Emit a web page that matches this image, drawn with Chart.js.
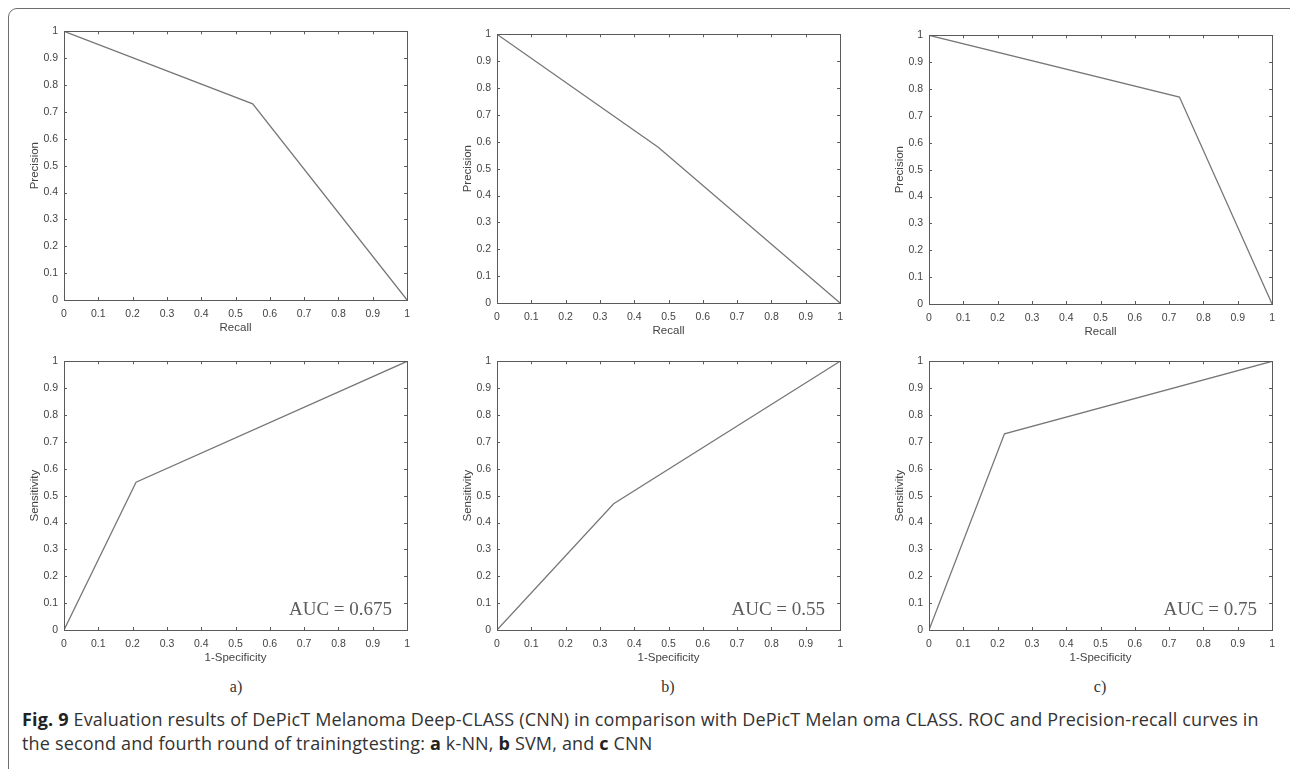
<!DOCTYPE html>
<html>
<head>
<meta charset="utf-8">
<script src="https://cdn.jsdelivr.net/npm/chart.js@4.4.0/dist/chart.umd.min.js"></script>
<style>
  body { margin: 0; width: 1290px; height: 769px; background: #fff; overflow: hidden; position: relative; }
  .frame { position: absolute; left: 8px; top: 8px; width: 1400px; height: 900px;
           border: 1.5px solid #6e6e6e; border-top-left-radius: 9px; }
  .box { position: absolute; }
  .sub { position: absolute; font-family: "Liberation Serif", serif; font-size: 16px; color: #333; transform: translateX(-50%); }
  .caption { position: absolute; left: 22px; top: 707px; font-family: "Open Sans", sans-serif;
             font-size: 18px; line-height: 24px; color: #333; white-space: nowrap; letter-spacing: 0.17px; }
  .caption b { color: #222; }
</style>
</head>
<body>
<div class="frame"></div>

<div class="box" id="b1"><canvas id="c1"></canvas></div>
<div class="box" id="b2"><canvas id="c2"></canvas></div>
<div class="box" id="b3"><canvas id="c3"></canvas></div>
<div class="box" id="b4"><canvas id="c4"></canvas></div>
<div class="box" id="b5"><canvas id="c5"></canvas></div>
<div class="box" id="b6"><canvas id="c6"></canvas></div>

<div class="sub" style="left:236px; top:678px;">a)</div>
<div class="sub" style="left:668px; top:678px;">b)</div>
<div class="sub" style="left:1100px; top:678px;">c)</div>

<div class="caption"><b>Fig. 9</b> Evaluation results of DePicT Melanoma Deep-CLASS (CNN) in comparison with DePicT Melan oma CLASS. ROC and Precision-recall curves in<br>the second and fourth round of trainingtesting: <b>a</b> k-NN, <b>b</b> SVM, and <b>c</b> CNN</div>

<script>
// precision-recall curves (x = recall, y = precision)
var prKnnX = [0, 0.55, 1]
var prKnnY = [1, 0.73, 0]
var prSvmX = [0, 0.47, 1]
var prSvmY = [1, 0.58, 0]
var prCnnX = [0, 0.73, 1]
var prCnnY = [1, 0.77, 0]

// ROC curves (x = 1-specificity, y = sensitivity)
var rocKnnX = [0, 0.21, 1]
var rocKnnY = [0, 0.55, 1]
var rocSvmX = [0, 0.34, 1]
var rocSvmY = [0, 0.47, 1]
var rocCnnX = [0, 0.22, 1]
var rocCnnY = [0, 0.73, 1]

var aucLabels = ["AUC = 0.675", "AUC = 0.55", "AUC = 0.75"]
var tickValues = [0, 0.1, 0.2, 0.3, 0.4, 0.5, 0.6, 0.7, 0.8, 0.9, 1]

var LEFT = 60, TOP = 10, RIGHT = 10, BOTTOM = 45

function toPoints(xs, ys) {
    var pts = []
    for (var i = 0; i < xs.length; i++) pts.push({ x: xs[i], y: ys[i] })
    return pts
}

// box around the plot with MATLAB style inward ticks on all sides
var boxTicks = {
    id: 'boxTicks',
    afterDraw: function (chart) {
        var ctx = chart.ctx, a = chart.chartArea
        var xs = chart.scales.x, ys = chart.scales.y
        ctx.save()
        ctx.strokeStyle = '#5a5a5a'
        ctx.lineWidth = 1
        ctx.strokeRect(Math.round(a.left) + 0.5, Math.round(a.top) + 0.5,
            Math.round(a.right - a.left), Math.round(a.bottom - a.top))
        ctx.beginPath()
        tickValues.forEach(function (v) {
            var px = Math.round(xs.getPixelForValue(v)) + 0.5
            ctx.moveTo(px, a.bottom); ctx.lineTo(px, a.bottom - 3)
            ctx.moveTo(px, a.top); ctx.lineTo(px, a.top + 3)
            var py = Math.round(ys.getPixelForValue(v)) + 0.5
            ctx.moveTo(a.left, py); ctx.lineTo(a.left + 3, py)
            ctx.moveTo(a.right, py); ctx.lineTo(a.right - 3, py)
        })
        ctx.stroke()
        var note = chart.options.plugins.boxTicks && chart.options.plugins.boxTicks.text
        if (note) {
            ctx.fillStyle = '#5c5c5c'
            ctx.font = '19px "Liberation Serif", serif'
            ctx.textAlign = 'right'
            ctx.textBaseline = 'middle'
            ctx.fillText(note, a.right - 15, ys.getPixelForValue(0.075))
        }
        ctx.restore()
    }
}

function makeChart(n, plotLeft, plotTop, xs, ys, xTitle, yTitle, note) {
    var w = 344, h = 271
    var box = document.getElementById('b' + n)
    box.style.left = (plotLeft - LEFT) + 'px'
    box.style.top = (plotTop - TOP) + 'px'
    box.style.width = (w + LEFT + RIGHT) + 'px'
    box.style.height = (h + TOP + BOTTOM) + 'px'

    var tickFont = { family: '"Liberation Sans", Arial, sans-serif', size: 10.5 }
    var titleFont = { family: '"Liberation Sans", Arial, sans-serif', size: 11.5 }

    new Chart(document.getElementById('c' + n), {
        type: 'scatter',
        data: {
            datasets: [{
                data: toPoints(xs, ys),
                showLine: true,
                borderColor: '#777777',
                borderWidth: 1.3,
                pointRadius: 0,
                tension: 0
            }]
        },
        options: {
            responsive: true,
            maintainAspectRatio: false,
            animation: false,
            layout: { padding: { top: TOP, right: RIGHT, left: 0, bottom: 0 } },
            plugins: {
                legend: { display: false },
                tooltip: { enabled: false },
                boxTicks: { text: note }
            },
            scales: {
                x: {
                    type: 'linear', min: 0, max: 1,
                    afterBuildTicks: function (s) { s.ticks = tickValues.map(function (v) { return { value: v } }) },
                    afterFit: function (s) { s.height = BOTTOM },
                    grid: { display: false, drawTicks: false },
                    border: { display: false },
                    ticks: { color: '#444', font: tickFont, padding: 8,
                        callback: function (v) { return String(v) } },
                    title: { display: true, text: xTitle, color: '#444', font: titleFont, padding: { top: 0, bottom: 10 } }
                },
                y: {
                    type: 'linear', min: 0, max: 1,
                    afterBuildTicks: function (s) { s.ticks = tickValues.map(function (v) { return { value: v } }) },
                    afterFit: function (s) { s.width = LEFT },
                    grid: { display: false, drawTicks: false },
                    border: { display: false },
                    ticks: { color: '#444', font: tickFont, padding: 6,
                        callback: function (v) { return String(v) } },
                    title: { display: true, text: yTitle, color: '#444', font: titleFont, padding: { top: 24, bottom: 0 } }
                }
            }
        },
        plugins: [boxTicks]
    })
}

makeChart(1, 64, 29, prKnnX, prKnnY, 'Recall', 'Precision', null)
makeChart(2, 497, 32, prSvmX, prSvmY, 'Recall', 'Precision', null)
makeChart(3, 929, 33, prCnnX, prCnnY, 'Recall', 'Precision', null)
makeChart(4, 64, 359, rocKnnX, rocKnnY, '1-Specificity', 'Sensitivity', aucLabels[0])
makeChart(5, 497, 359, rocSvmX, rocSvmY, '1-Specificity', 'Sensitivity', aucLabels[1])
makeChart(6, 929, 359, rocCnnX, rocCnnY, '1-Specificity', 'Sensitivity', aucLabels[2])
</script>
</body>
</html>
